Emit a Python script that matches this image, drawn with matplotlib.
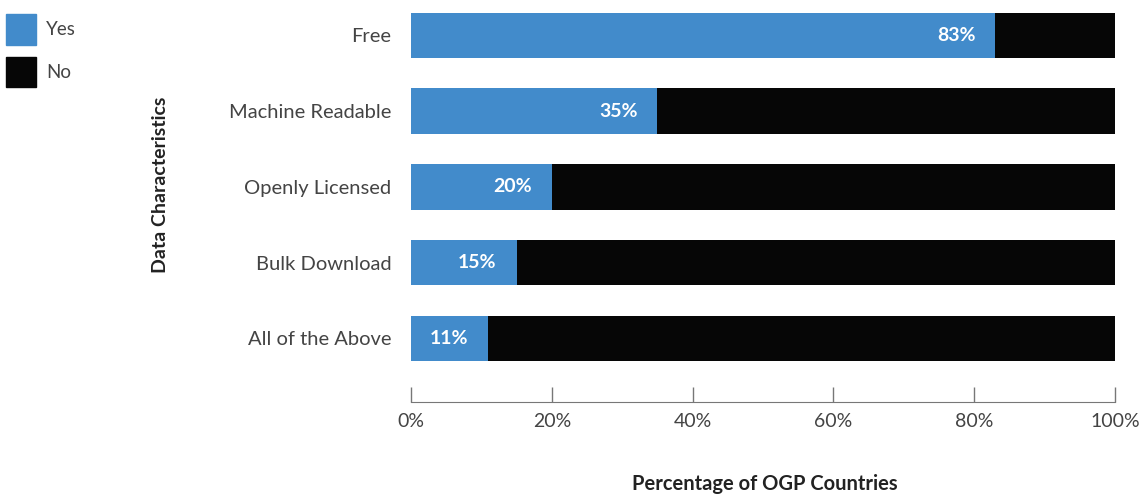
import matplotlib
matplotlib.use("Agg")
import matplotlib.pyplot as plt
import numpy as np
from matplotlib.patches import Patch

CATEGORIES = ["Free", "Machine Readable", "Openly Licensed", "Bulk Download", "All of the Above"]
YES_PCT = [83, 35, 20, 15, 11]
NO_PCT = [100 - v for v in YES_PCT]
X_TICKS = [0, 20, 40, 60, 80, 100]

BLUE = "#428BCB"
BLACK = "#060606"
GREY = "#444444"

plt.rcParams["font.family"] = ["Lato", "DejaVu Sans"]

W, H = 1141, 495
fig = plt.figure(figsize=(W / 100, H / 100), dpi=100)
ax = fig.add_axes([411 / W, (H - 402) / H, (1115 - 411) / W, (402 - 5) / H])

y = np.arange(len(CATEGORIES))
ax.barh(y, YES_PCT, height=0.6, color=BLUE)
ax.barh(y, NO_PCT, left=YES_PCT, height=0.6, color=BLACK)

for yi, v in zip(y, YES_PCT):
    ax.annotate(f"{v}%", xy=(v, yi), xytext=(-20, 0), textcoords="offset pixels",
                ha="right", va="center", color="white", fontsize=14, fontweight="bold")

ax.set_xlim(0, 100)
ax.set_ylim(len(CATEGORIES) - 1 + 0.84, -0.4)
ax.set_xticks(X_TICKS, [f"{t}%" for t in X_TICKS])
ax.set_yticks(y, CATEGORIES)
ax.tick_params(axis="y", length=0, pad=14, labelsize=14.5, labelcolor=GREY)
ax.tick_params(axis="x", direction="in", length=11, width=1, color="#777777",
               pad=8, labelsize=14, labelcolor=GREY)
for side in ("top", "right", "left"):
    ax.spines[side].set_visible(False)
ax.spines["bottom"].set_color("#777777")

fig.text(160 / W, 1 - 185 / H, "Data Characteristics", rotation=90, ha="center", va="center",
         fontsize=14, fontweight="bold", color="#222222")
fig.text(765 / W, 1 - 484 / H, "Percentage of OGP Countries", ha="center", va="center",
         fontsize=14.5, fontweight="bold", color="#222222")

handles = [Patch(color=BLUE, label="Yes"), Patch(color=BLACK, label="No")]
fig.legend(handles=handles, loc="upper left", bbox_to_anchor=(-3 / W, 1 - 5 / H), frameon=False,
           handlelength=1.6, handleheight=2.1, labelspacing=0.65, fontsize=13.5,
           labelcolor=GREY, borderaxespad=0.1, handletextpad=0.5)

fig.savefig("out.png", dpi=100)
